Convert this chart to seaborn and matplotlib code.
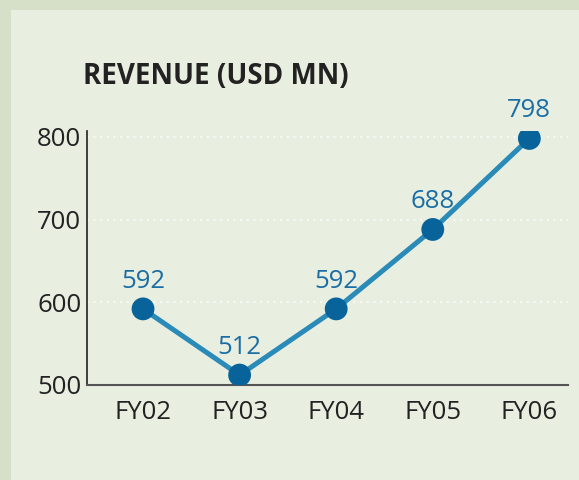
import matplotlib
matplotlib.use("Agg")
import matplotlib.pyplot as plt
import seaborn as sns
import pandas as pd
from matplotlib.patches import Rectangle

# data
years = ["FY02", "FY03", "FY04", "FY05", "FY06"]
revenue = [592, 512, 592, 688, 798]
y_ticks = [500, 600, 700, 800]

border_col = "#d6e0c8"
panel_col = "#e8eee0"
line_col = "#2a8ab8"
dot_col = "#07639a"
label_col = "#1a6ea3"

sns.set_theme(style="white")
plt.rcParams['font.family'] = ['Open Sans', 'DejaVu Sans']

df = pd.DataFrame({"year": years, "revenue": revenue})
df["pos"] = range(len(years))

fig = plt.figure(figsize=(5.79, 4.8), dpi=100)
fig.patch.set_facecolor(border_col)
# inner panel, the border only shows on top and left
fig.patches.append(Rectangle((11 / 579, 0), 1, 1 - 10 / 480, transform=fig.transFigure,
                             facecolor=panel_col, edgecolor="none", zorder=-10))

ax = fig.add_axes([87 / 579, 1 - 385 / 480, (568 - 87) / 579, (385 - 131) / 480])
ax.set_zorder(2)
ax.set_facecolor("none")

sns.lineplot(data=df, x="pos", y="revenue", ax=ax, color=line_col, linewidth=3.6, zorder=3)
sns.scatterplot(data=df, x="pos", y="revenue", ax=ax, color=dot_col, s=270,
                edgecolor="none", zorder=4)

for x, v in zip(df["pos"], df["revenue"]):
    ax.annotate(str(v), (x, v), xytext=(0, 20), textcoords="offset points",
                ha="center", va="center", fontsize=18.5, color=label_col)

ax.set_xlim(-0.58, 4.40)
ax.set_ylim(500, 807)
ax.set_xticks(df["pos"])
ax.set_xticklabels(years)
ax.set_yticks(y_ticks)
ax.tick_params(axis="both", length=0, labelsize=18.5, colors="#222222")
ax.tick_params(axis="x", pad=11)
ax.tick_params(axis="y", pad=4)
ax.set_xlabel("")
ax.set_ylabel("")

for yv in y_ticks[1:]:
    ax.axhline(yv, color="white", linestyle=(0, (1, 3)), linewidth=1.2, zorder=1)

for side in ["top", "right"]:
    ax.spines[side].set_visible(False)
ax.spines["left"].set_color("#222222")
ax.spines["bottom"].set_color("#555555")
ax.spines["left"].set_linewidth(1.2)
ax.spines["bottom"].set_linewidth(1.5)

fig.text(83 / 579, 1 - 77 / 480, "REVENUE (USD MN)", fontsize=20, fontweight="bold",
         color="#222222", ha="left", va="center")

fig.savefig("out.png", dpi=100, facecolor=fig.get_facecolor())
